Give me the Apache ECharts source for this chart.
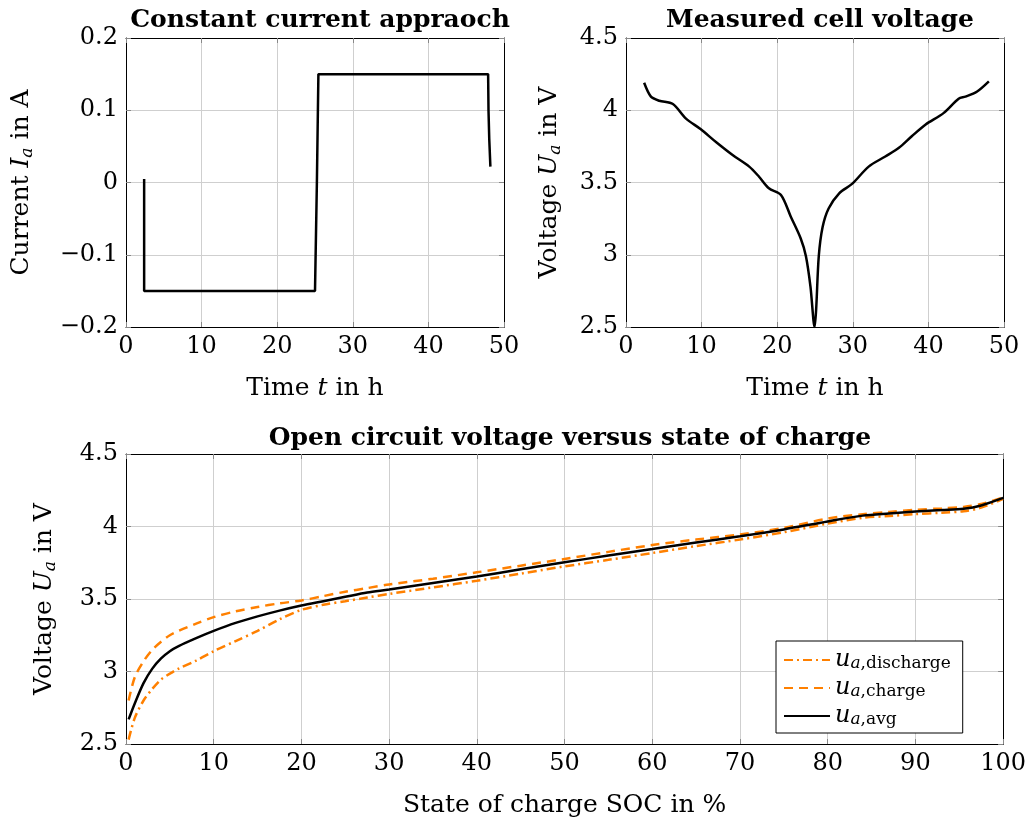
<!DOCTYPE html>
<html>
<head>
<meta charset="utf-8">
<script src="https://cdn.jsdelivr.net/npm/echarts@6/dist/echarts.min.js"></script>
<style>
html, body { margin: 0; padding: 0; background: #fff; }
#chart-panel { width: 1029px; height: 820px; }
</style>
</head>
<body>
<div id="chart-panel"></div>
<script>
// top left: applied current
var timeI = [2.4, 2.4, 25.0, 25.25, 25.45, 47.9, 47.95, 48.05, 48.2];
var currentA = [0.005, -0.15, -0.15, 0, 0.15, 0.15, 0.1, 0.06, 0.022];

// top right: measured cell voltage
var timeV = [2.4, 3.3, 4.4, 6.2, 7.9, 9.9, 11.9, 14.1, 16.3, 17.6, 18.9, 20.5, 21.8, 23.1, 23.8, 24.4, 24.95,
  25.15, 25.5, 26.0, 26.8, 28.2, 29.9, 32.1, 34.3, 36.1, 37.8, 39.6, 42.0, 44.0, 44.9, 46.4, 48.0];
var cellVoltage = [4.19, 4.094, 4.066, 4.043, 3.944, 3.868, 3.78, 3.69, 3.61, 3.54, 3.46, 3.414, 3.263, 3.114, 2.99, 2.78, 2.5,
  2.62, 2.99, 3.19, 3.32, 3.425, 3.49, 3.61, 3.68, 3.74, 3.82, 3.90, 3.98, 4.08, 4.094, 4.128, 4.20];

// bottom: open circuit voltage over SOC
var soc = [0.3, 1, 2, 3, 4, 5, 6, 8, 10, 12.5, 15, 17.5, 20, 22.5, 25, 27.5, 30, 35, 40, 45, 50, 55, 60, 65, 70, 75, 80, 84, 87, 90, 93, 95.5, 97.5, 100];
var uDischarge = [2.53, 2.68, 2.80, 2.88, 2.945, 2.985, 3.02, 3.075, 3.14, 3.21, 3.28, 3.36, 3.425, 3.46, 3.485, 3.51, 3.535, 3.58, 3.626, 3.675,
  3.725, 3.77, 3.817, 3.865, 3.91, 3.96, 4.02, 4.06, 4.072, 4.085, 4.095, 4.105, 4.13, 4.19];
var uCharge = [2.80, 2.96, 3.07, 3.15, 3.205, 3.25, 3.28, 3.33, 3.375, 3.415, 3.445, 3.47, 3.49, 3.52, 3.55, 3.575, 3.60, 3.64, 3.684, 3.73,
  3.776, 3.825, 3.872, 3.91, 3.945, 3.99, 4.055, 4.085, 4.10, 4.115, 4.125, 4.135, 4.155, 4.2];
var uAvg = [2.67, 2.78, 2.92, 3.02, 3.09, 3.14, 3.175, 3.23, 3.28, 3.335, 3.38, 3.42, 3.455, 3.485, 3.515, 3.545, 3.565, 3.61, 3.655, 3.705,
  3.753, 3.80, 3.845, 3.89, 3.932, 3.98, 4.035, 4.075, 4.09, 4.103, 4.113, 4.122, 4.145, 4.197];

var serif = 'DejaVu Serif';
var orange = '#ff8000';
var fs = 24;
var nfs = 25;

function pairs(xs, ys) {
  return xs.map(function (x, i) { return [x, ys[i]]; });
}
function fmt(v) {
  var r = Math.round(v * 10) / 10;
  return (r < 0 ? '\u2212' : '') + Math.abs(r);
}

var rich = {
  r: { fontFamily: serif, fontSize: nfs, lineHeight: 30, verticalAlign: 'middle', color: '#000' },
  i: { fontFamily: serif, fontStyle: 'italic', fontSize: nfs, lineHeight: 30, verticalAlign: 'middle', color: '#000' },
  s: { fontFamily: serif, fontStyle: 'italic', fontSize: 17, lineHeight: 17, verticalAlign: 'bottom', color: '#000' }
};
var legRich = {
  i: { fontFamily: serif, fontStyle: 'italic', fontSize: 24, lineHeight: 24, verticalAlign: 'middle', color: '#000' },
  s: { fontFamily: serif, fontStyle: 'italic', fontSize: 17, lineHeight: 14, verticalAlign: 'bottom', color: '#000' },
  sr: { fontFamily: serif, fontSize: 17, lineHeight: 14, verticalAlign: 'bottom', color: '#000' }
};
var legNames = {
  discharge: '{i|u}{s|a}{sr|,discharge}',
  charge: '{i|u}{s|a}{sr|,charge}',
  avg: '{i|u}{s|a}{sr|,avg}'
};

var grids = [
  { left: 126, top: 38, width: 378, height: 289 },
  { left: 626, top: 38, width: 378, height: 289 },
  { left: 126, top: 454, width: 878, height: 290 }
];

var xAxes = [], yAxes = [];
function addAxes(g, xr, yr, xName, yName, yGap) {
  xAxes.push({
    type: 'value', gridIndex: g, min: xr[0], max: xr[1], interval: xr[2],
    name: xName, nameLocation: 'middle', nameGap: 46,
    nameTextStyle: { fontFamily: serif, fontSize: nfs, color: '#000', rich: rich },
    axisLine: { show: true, onZero: false, lineStyle: { color: '#000', width: 1 } },
    axisTick: { inside: true, length: 5, lineStyle: { color: '#888' } },
    axisLabel: { fontFamily: serif, fontSize: fs, color: '#000', margin: 8 },
    splitLine: { show: true, lineStyle: { color: '#cfcfcf', width: 1 } }
  });
  xAxes.push({
    type: 'value', gridIndex: g, position: 'top', min: xr[0], max: xr[1], interval: xr[2],
    axisLine: { show: true, onZero: false, lineStyle: { color: '#000', width: 1 } },
    axisTick: { inside: true, length: 5, lineStyle: { color: '#888' } },
    axisLabel: { show: false }, splitLine: { show: false }
  });
  yAxes.push({
    type: 'value', gridIndex: g, min: yr[0], max: yr[1], interval: yr[2],
    name: yName, nameLocation: 'middle', nameGap: yGap,
    nameTextStyle: { fontFamily: serif, fontSize: nfs, color: '#000', rich: rich },
    axisLine: { show: true, onZero: false, lineStyle: { color: '#000', width: 1 } },
    axisTick: { inside: true, length: 5, lineStyle: { color: '#888' } },
    axisLabel: { fontFamily: serif, fontSize: fs, color: '#000', margin: 8, formatter: fmt },
    splitLine: { show: true, lineStyle: { color: '#cfcfcf', width: 1 } }
  });
  yAxes.push({
    type: 'value', gridIndex: g, position: 'right', min: yr[0], max: yr[1], interval: yr[2],
    axisLine: { show: true, onZero: false, lineStyle: { color: '#000', width: 1 } },
    axisTick: { inside: true, length: 5, lineStyle: { color: '#888' } },
    axisLabel: { show: false }, splitLine: { show: false }
  });
}
addAxes(0, [0, 50, 10], [-0.2, 0.2, 0.1], '{r|Time }{i|t}{r| in h}', '{r|Current }{i|I}{s|a}{r| in A}', 90);
addAxes(1, [0, 50, 10], [2.5, 4.5, 0.5], '{r|Time }{i|t}{r| in h}', '{r|Voltage }{i|U}{s|a}{r| in V}', 62);
addAxes(2, [0, 100, 10], [2.5, 4.5, 0.5], '{r|State of charge SOC in %}', '{r|Voltage }{i|U}{s|a}{r| in V}', 67);

var titleStyle = { fontFamily: serif, fontWeight: 'bold', fontSize: 25, color: '#000' };

var option = {
  animation: false,
  backgroundColor: '#fff',
  title: [
    { text: 'Constant current appraoch', left: 315, top: 3, textAlign: 'center', textStyle: titleStyle },
    { text: 'Measured cell voltage', left: 815, top: 3, textAlign: 'center', textStyle: titleStyle },
    { text: 'Open circuit voltage versus state of charge', left: 565, top: 421, textAlign: 'center', textStyle: titleStyle }
  ],
  grid: grids,
  xAxis: xAxes,
  yAxis: yAxes,
  legend: {
    orient: 'vertical', left: 776, top: 641,
    backgroundColor: '#fff', borderColor: '#000', borderWidth: 1, borderRadius: 0,
    padding: [7, 12, 5, 7], itemGap: 4, itemWidth: 46, itemHeight: 14,
    itemStyle: { opacity: 0 },
    data: ['discharge', 'charge', 'avg'],
    formatter: function (name) { return legNames[name]; },
    textStyle: { rich: legRich }
  },
  series: [
    {
      name: 'current', type: 'line', xAxisIndex: 0, yAxisIndex: 0, symbol: 'none',
      lineStyle: { color: '#000', width: 2.5 }, itemStyle: { color: '#000' },
      data: pairs(timeI, currentA)
    },
    {
      name: 'voltage', type: 'line', xAxisIndex: 2, yAxisIndex: 2, symbol: 'none', smooth: 0.3,
      lineStyle: { color: '#000', width: 2.5 }, itemStyle: { color: '#000' },
      data: pairs(timeV, cellVoltage)
    },
    {
      name: 'discharge', type: 'line', xAxisIndex: 4, yAxisIndex: 4, symbol: 'none', smooth: 0.3,
      lineStyle: { color: orange, width: 2.5, type: [9, 4, 2, 4] }, itemStyle: { color: orange },
      data: pairs(soc, uDischarge)
    },
    {
      name: 'charge', type: 'line', xAxisIndex: 4, yAxisIndex: 4, symbol: 'none', smooth: 0.3,
      lineStyle: { color: orange, width: 2.5, type: [9, 6] }, itemStyle: { color: orange },
      data: pairs(soc, uCharge)
    },
    {
      name: 'avg', type: 'line', xAxisIndex: 4, yAxisIndex: 4, symbol: 'none', smooth: 0.3,
      lineStyle: { color: '#000', width: 2.5 }, itemStyle: { color: '#000' },
      data: pairs(soc, uAvg)
    }
  ]
};

var chart = echarts.init(document.getElementById('chart-panel'));
chart.setOption(option);
</script>
</body>
</html>
